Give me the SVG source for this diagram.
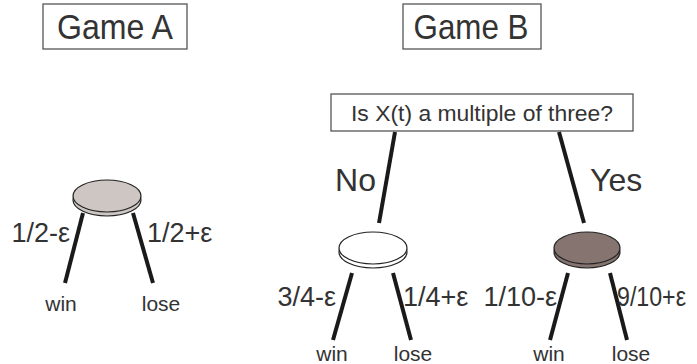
<svg xmlns="http://www.w3.org/2000/svg" width="697" height="364" viewBox="0 0 697 364">
<style>
text{font-family:"Liberation Sans",Arial,sans-serif;fill:#333}
.box{fill:#fff;stroke:#555;stroke-width:1.3}
.edge{stroke:#1a1a1a;stroke-width:4;fill:none;stroke-linecap:butt}
.disc{stroke:#222;stroke-width:1.2}
.title{font-size:35px;text-anchor:middle}
.q{font-size:22px;text-anchor:middle}
.big{font-size:32px}
.p{font-size:27px}
.o{font-size:21px;text-anchor:middle}
</style>
<rect width="697" height="364" fill="#fff"/>
<g id="gameA-title"><rect class="box" x="43" y="4" width="144" height="45"/><text class="title" x="115" y="39" textLength="116" lengthAdjust="spacingAndGlyphs">Game A</text></g>
<g id="gameB-title"><rect class="box" x="403" y="4" width="138" height="45"/><text class="title" x="471" y="39" textLength="115" lengthAdjust="spacingAndGlyphs">Game B</text></g>
<g id="question"><rect class="box" x="331" y="94" width="302" height="37"/><text class="q" x="482" y="121" textLength="262" lengthAdjust="spacingAndGlyphs">Is X(t) a multiple of three?</text></g>
<g id="connectors">
<line class="edge" x1="83" y1="213" x2="65" y2="283"/>
<line class="edge" x1="133" y1="213" x2="153" y2="283"/>
<line class="edge" x1="395" y1="132" x2="379" y2="223"/>
<line class="edge" x1="559" y1="132" x2="584" y2="223"/>
<line class="edge" x1="352" y1="273" x2="333" y2="340"/>
<line class="edge" x1="393" y1="273" x2="411" y2="340"/>
<line class="edge" x1="568" y1="273" x2="550" y2="340"/>
<line class="edge" x1="610" y1="273" x2="627" y2="340"/>
</g>
<g id="nodeA">
<ellipse class="disc" cx="107" cy="200" rx="34" ry="16" fill="#cdc6c3"/>
<ellipse class="disc" cx="107" cy="196" rx="34" ry="16" fill="#cdc6c3"/>
</g>
<g id="nodeB-no">
<ellipse class="disc" cx="373" cy="252" rx="34" ry="16" fill="#fff"/>
<ellipse class="disc" cx="373" cy="248" rx="34" ry="16" fill="#fff"/>
</g>
<g id="nodeB-yes">
<ellipse class="disc" cx="587" cy="252" rx="33" ry="16" fill="#857470"/>
<ellipse class="disc" cx="587" cy="248" rx="33" ry="16" fill="#857470"/>
</g>
<g id="labels">
<text class="p" x="70" y="242" text-anchor="end">1/2-ε</text>
<text class="p" x="147" y="242">1/2+ε</text>
<text class="o" x="61" y="311">win</text>
<text class="o" x="161" y="311">lose</text>
<text class="big" x="376" y="191" text-anchor="end">No</text>
<text class="big" x="590" y="191">Yes</text>
<text class="p" x="336" y="306" text-anchor="end">3/4-ε</text>
<text class="p" x="403" y="306">1/4+ε</text>
<text class="p" x="557" y="306" text-anchor="end">1/10-ε</text>
<text class="p" x="617" y="306" textLength="69" lengthAdjust="spacingAndGlyphs">9/10+ε</text>
<text class="o" x="332" y="361">win</text>
<text class="o" x="413" y="361">lose</text>
<text class="o" x="549" y="361">win</text>
<text class="o" x="631" y="361">lose</text>
</g>
</svg>
